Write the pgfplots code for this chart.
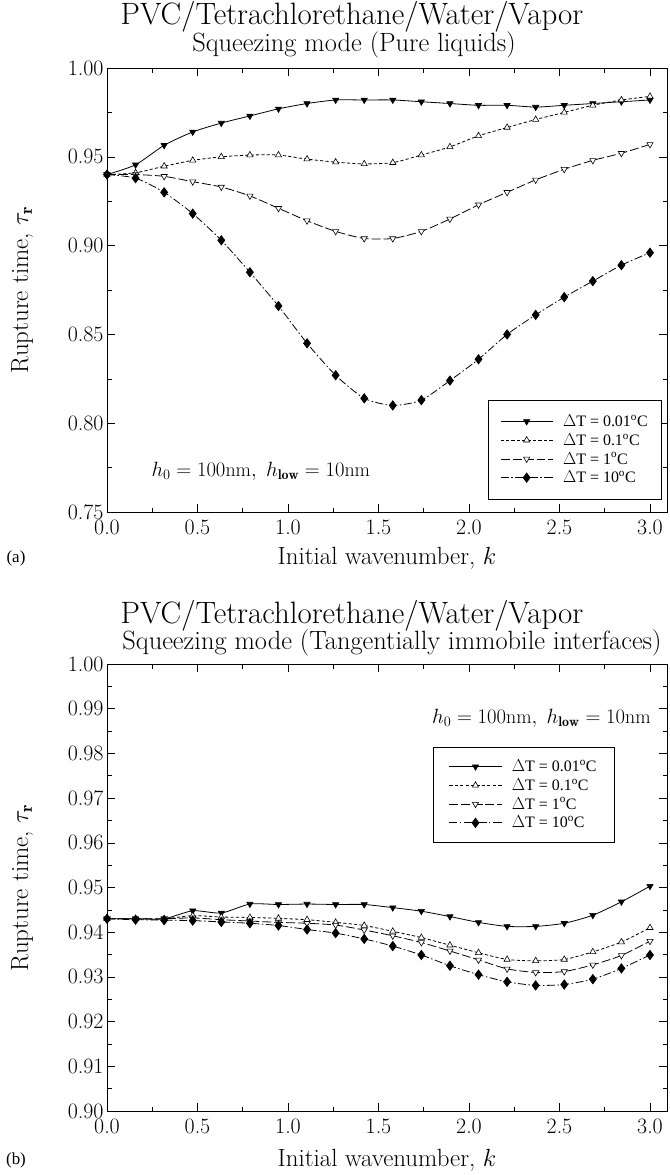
\documentclass[border=0pt]{standalone}
\usepackage{fontspec}
\usepackage{pgfplots}
\usepackage{pgfplotstable}
\pgfplotsset{compat=1.18}
\newfontfamily\timesf{Liberation Serif}

\pgfplotstableread{
k      a1     a2     a3     a4     b1      b2      b3      b4
0.0000 0.940  0.940  0.940  0.940  0.9430  0.9430  0.9430  0.9430
0.1579 0.9455 0.941  0.940  0.938  0.9430  0.9430  0.9430  0.9428
0.3158 0.9565 0.9447 0.939  0.930  0.9430  0.9430  0.9430  0.9427
0.4737 0.964  0.948  0.936  0.918  0.9448  0.9437  0.9432  0.9426
0.6316 0.969  0.950  0.933  0.903  0.9443  0.9434  0.9428  0.9423
0.7895 0.973  0.951  0.928  0.885  0.9463  0.9433  0.9425  0.9420
0.9474 0.977  0.951  0.921  0.866  0.9462  0.9431  0.9422  0.9415
1.1053 0.980  0.9487 0.914  0.845  0.9463  0.9428  0.9420  0.9406
1.2632 0.982  0.947  0.908  0.827  0.9462  0.9422  0.9416  0.9398
1.4211 0.982  0.946  0.904  0.814  0.9462  0.9415  0.9405  0.9385
1.5789 0.982  0.9467 0.904  0.810  0.9455  0.9402  0.9392  0.9369
1.7368 0.981  0.951  0.908  0.813  0.9447  0.9388  0.9377  0.9349
1.8947 0.980  0.9556 0.915  0.824  0.9435  0.9371  0.9358  0.9325
2.0526 0.979  0.9618 0.923  0.836  0.9422  0.9354  0.9338  0.9305
2.2105 0.979  0.9665 0.930  0.850  0.9413  0.9339  0.9318  0.9289
2.3684 0.978  0.971  0.937  0.861  0.9413  0.9336  0.9310  0.9281
2.5263 0.979  0.975  0.943  0.871  0.9420  0.9339  0.9312  0.9283
2.6842 0.980  0.979  0.948  0.880  0.9438  0.9356  0.9327  0.9295
2.8421 0.981  0.982  0.952  0.889  0.9468  0.9378  0.9348  0.9319
3.0000 0.982  0.984  0.957  0.896  0.9503  0.9410  0.9380  0.9349
}\data

\pgfplotsset{
  sA/.style={black, line width=0.8pt, smooth, tension=0.4, mark=triangle*, mark size=3.6pt,
    mark options={solid, rotate=180, fill=black, line width=0.6pt}},
  sB/.style={black, line width=0.8pt, smooth, tension=0.4, dash pattern=on 3.2pt off 2.2pt, mark=triangle*, mark size=3.6pt,
    mark options={solid, fill=white, line width=0.6pt}},
  sC/.style={black, line width=0.8pt, smooth, tension=0.4, dash pattern=on 9pt off 3pt, mark=triangle*, mark size=3.6pt,
    mark options={solid, rotate=180, fill=white, line width=0.6pt}},
  sD/.style={black, line width=0.8pt, smooth, tension=0.4, dash pattern=on 8pt off 2.5pt on 1.5pt off 2.5pt, mark=diamond*, mark size=4.6pt,
    mark options={solid, fill=black}},
  common/.style={
    scale only axis, width=560bp,
    xmin=0, xmax=3.094,
    xtick={0,0.5,1.0,1.5,2.0,2.5,3.0}, minor x tick num=1,
    tick align=inside, major tick length=8bp, minor tick length=4.5bp,
    every tick/.style={black, line width=0.6pt},
    axis line style={line width=0.9pt},
    /pgf/number format/assume math mode=true,
    xticklabel style={font=\fontsize{22}{24}\selectfont, yshift=-4bp, /pgf/number format/fixed, /pgf/number format/zerofill, /pgf/number format/precision=1},
    yticklabel style={font=\fontsize{22}{24}\selectfont, /pgf/number format/fixed, /pgf/number format/zerofill, /pgf/number format/precision=2},
    legend cell align=left,
    legend image code/.code={\draw[mark repeat=2,mark phase=2,##1] plot coordinates {(0bp,0bp) (26bp,0bp) (52bp,0bp)};},
    legend style={draw=black, line width=0.6pt, font=\timesf\fontsize{16}{17}\selectfont, row sep=1.5bp,
      /tikz/every odd column/.append style={column sep=8bp}},
  }
}

\begin{document}
\begin{tikzpicture}
\useasboundingbox (0bp,0bp) rectangle (670bp,-1175bp);

% ---------- panel (a)
\node[inner sep=0pt, font=\fontsize{31}{34}\selectfont] at (352bp,-17bp) {PVC/Tetrachlorethane/Water/Vapor};
\node[inner sep=0pt, font=\fontsize{26.5}{30}\selectfont] at (354bp,-45bp) {Squeezing mode (Pure liquids)};
\begin{axis}[common, at={(107bp,-512bp)}, anchor=south west, height=444bp,
  ymin=0.75, ymax=1.0, ytick={0.75,0.80,0.85,0.90,0.95,1.00}, minor y tick num=1,
  legend style={at={(axis cs:3.066,0.757)}, anchor=south east, inner xsep=12bp, inner ysep=13bp}]
\addplot[sA] table[x=k,y=a1]{\data};
\addlegendentry{$\Delta$T = 0.01\textsuperscript{o}C}
\addplot[sB] table[x=k,y=a2]{\data};
\addlegendentry{$\Delta$T = 0.1\textsuperscript{o}C}
\addplot[sC] table[x=k,y=a3]{\data};
\addlegendentry{$\Delta$T = 1\textsuperscript{o}C}
\addplot[sD] table[x=k,y=a4]{\data};
\addlegendentry{$\Delta$T = 10\textsuperscript{o}C}
\node[font=\fontsize{20}{22}\selectfont] at (axis cs:0.85,0.773) {$h_0 = 100\mathrm{nm},\ h_{\mathbf{low}} = 10\mathrm{nm}$};
\end{axis}
\node[font=\fontsize{25}{28}\selectfont] at (387bp,-558bp) {Initial wavenumber, $k$};
\node[font=\fontsize{25}{28}\selectfont, rotate=90] at (22bp,-290bp) {Rupture time, $\tau_{\mathbf{r}}$};
\node[font=\timesf\fontsize{17}{19}\selectfont] at (16bp,-558bp) {(a)};

% ---------- panel (b)
\node[inner sep=0pt, font=\fontsize{31}{34}\selectfont] at (352bp,-616bp) {PVC/Tetrachlorethane/Water/Vapor};
\node[inner sep=0pt, font=\fontsize{26.5}{30}\selectfont] at (392bp,-643bp) {Squeezing mode (Tangentially immobile interfaces)};
\begin{axis}[common, at={(107bp,-1111bp)}, anchor=south west, height=447bp,
  ymin=0.90, ymax=1.0, ytick={0.90,0.91,0.92,0.93,0.94,0.95,0.96,0.97,0.98,0.99,1.00}, minor y tick num=1,
  legend style={at={(axis cs:1.80,0.9815)}, anchor=north west, inner xsep=16bp, inner ysep=11bp}]
\addplot[sA] table[x=k,y=b1]{\data};
\addlegendentry{$\Delta$T = 0.01\textsuperscript{o}C}
\addplot[sB] table[x=k,y=b2]{\data};
\addlegendentry{$\Delta$T = 0.1\textsuperscript{o}C}
\addplot[sC] table[x=k,y=b3]{\data};
\addlegendentry{$\Delta$T = 1\textsuperscript{o}C}
\addplot[sD] table[x=k,y=b4]{\data};
\addlegendentry{$\Delta$T = 10\textsuperscript{o}C}
\node[font=\fontsize{20}{22}\selectfont] at (axis cs:2.40,0.9878) {$h_0 = 100\mathrm{nm},\ h_{\mathbf{low}} = 10\mathrm{nm}$};
\end{axis}
\node[font=\fontsize{25}{28}\selectfont] at (387bp,-1160bp) {Initial wavenumber, $k$};
\node[font=\fontsize{25}{28}\selectfont, rotate=90] at (22bp,-888bp) {Rupture time, $\tau_{\mathbf{r}}$};
\node[font=\timesf\fontsize{17}{19}\selectfont] at (16bp,-1160bp) {(b)};
\end{tikzpicture}
\end{document}
